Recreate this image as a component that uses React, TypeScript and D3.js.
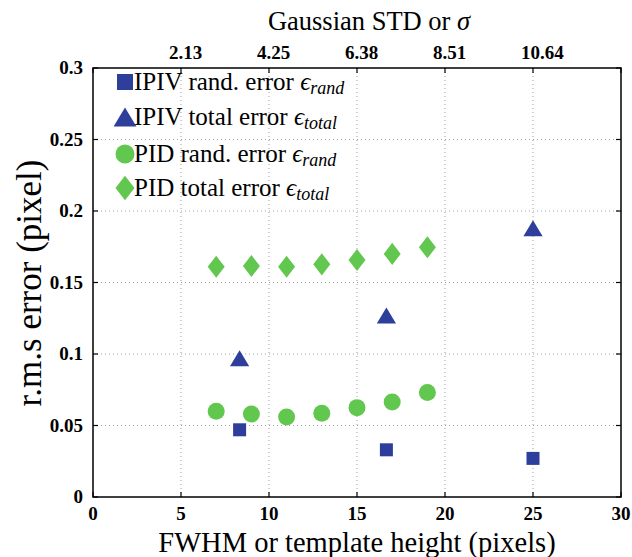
import React from 'react';
import * as d3 from 'd3';

const ipivX = [8.33, 16.67, 25];
const ipivRand = [0.047, 0.033, 0.027];
const ipivTotal = [0.097, 0.127, 0.188];
const pidX = [7, 9, 11, 13, 15, 17, 19];
const pidRand = [0.06, 0.058, 0.056, 0.0585, 0.0625, 0.0665, 0.073];
const pidTotal = [0.161, 0.1615, 0.161, 0.1627, 0.1657, 0.17, 0.1746];
const xTicks = [0, 5, 10, 15, 20, 25, 30];
const yTicks = [0, 0.05, 0.1, 0.15, 0.2, 0.25, 0.3];
const yTickLabels = ['0', '0.05', '0.1', '0.15', '0.2', '0.25', '0.3'];
const topTickPos = [5, 10, 15, 20, 25];
const topTickLabels = ['2.13', '4.25', '6.38', '8.51', '10.64'];
const legendItems = [
  { shape: 'square', color: 'blue', label: 'IPIV rand. error ', sub: 'rand' },
  { shape: 'triangle', color: 'blue', label: 'IPIV total error ', sub: 'total' },
  { shape: 'circle', color: 'green', label: 'PID rand. error ', sub: 'rand' },
  { shape: 'diamond', color: 'green', label: 'PID total error ', sub: 'total' },
];

const BLUE = '#2D3E9B';
const GREEN = '#62C74E';
const FONT = '"Liberation Serif"';

function marker(shape: string, cx: number, cy: number, s: number, color: string, key: any) {
  if (shape === 'square') {
    return <rect key={key} x={cx - s / 2} y={cy - s / 2} width={s} height={s} fill={color} />;
  }
  if (shape === 'circle') {
    return <circle key={key} cx={cx} cy={cy} r={s / 2} fill={color} />;
  }
  if (shape === 'triangle') {
    const w = s * 1.2, h = s;
    return <path key={key} d={`M${cx},${cy - h / 2}L${cx + w / 2},${cy + h / 2}L${cx - w / 2},${cy + h / 2}Z`} fill={color} />;
  }
  const w = s, h = s * 1.3;
  return <path key={key} d={`M${cx},${cy - h / 2}L${cx + w / 2},${cy}L${cx},${cy + h / 2}L${cx - w / 2},${cy}Z`} fill={color} />;
}

export default function App() {
  const L = 93, R = 621, T = 68, B = 497;
  const x = d3.scaleLinear().domain([0, 30]).range([L, R]);
  const y = d3.scaleLinear().domain([0, 0.3]).range([B, T]);
  const tl = 5;
  const tf = { fontFamily: FONT };
  return (
    <svg width={632} height={557} style={{ position: 'absolute', left: 0, top: 0, background: '#fff' }}>
      <rect x={0} y={0} width={632} height={557} fill="#fff" />
      {/* grid */}
      {xTicks.slice(1, -1).map((v) => (
        <line key={'gx' + v} x1={x(v)} x2={x(v)} y1={T} y2={B} stroke="#a0a0a0" strokeWidth={1} strokeDasharray="1,3" />
      ))}
      {yTicks.slice(1, -1).map((v) => (
        <line key={'gy' + v} x1={L} x2={R} y1={y(v)} y2={y(v)} stroke="#a0a0a0" strokeWidth={1} strokeDasharray="1,3" />
      ))}
      {/* ticks */}
      {xTicks.map((v) => (
        <g key={'tx' + v}>
          <line x1={x(v)} x2={x(v)} y1={B} y2={B - tl} stroke="#000" strokeWidth={1.2} />
          <line x1={x(v)} x2={x(v)} y1={T} y2={T + tl} stroke="#000" strokeWidth={1.2} />
          <text x={x(v)} y={520} textAnchor="middle" fontWeight="bold" fontSize={19} style={tf}>{v}</text>
        </g>
      ))}
      {yTicks.map((v, i) => (
        <g key={'ty' + v}>
          <line x1={L} x2={L + tl} y1={y(v)} y2={y(v)} stroke="#000" strokeWidth={1.2} />
          <line x1={R} x2={R - tl} y1={y(v)} y2={y(v)} stroke="#000" strokeWidth={1.2} />
          <text x={83} y={y(v) + 6} textAnchor="end" fontWeight="bold" fontSize={19} style={tf}>{yTickLabels[i]}</text>
        </g>
      ))}
      {topTickPos.map((v, i) => (
        <text key={'tt' + v} x={x(v) - 12} y={59} textAnchor="start" fontWeight="bold" fontSize={19} style={tf}>{topTickLabels[i]}</text>
      ))}
      {/* frame */}
      <rect x={L} y={T} width={R - L} height={B - T} fill="none" stroke="#000" strokeWidth={1.5} />
      {/* data */}
      {pidX.map((v, i) => marker('diamond', x(v), y(pidTotal[i]), 17, GREEN, 'pd' + i))}
      {pidX.map((v, i) => marker('circle', x(v), y(pidRand[i]), 17, GREEN, 'pc' + i))}
      {ipivX.map((v, i) => marker('triangle', x(v), y(ipivTotal[i]), 16, BLUE, 'it' + i))}
      {ipivX.map((v, i) => marker('square', x(v), y(ipivRand[i]), 13, BLUE, 'is' + i))}
      {/* legend */}
      {legendItems.map((it, i) => {
        const cy = [82, 117, 154, 188][i];
        const col = it.color === 'blue' ? BLUE : GREEN;
        return (
          <g key={'lg' + i}>
            {marker(it.shape, 125, cy, it.shape === 'square' ? 16 : 19, col, 'lm' + i)}
            <text x={134} y={cy + 8} fontSize={25} style={tf}>
              {it.label}
              <tspan fontStyle="italic">ϵ</tspan>
              <tspan fontStyle="italic" fontSize={18} dy={4}>{it.sub}</tspan>
            </text>
          </g>
        );
      })}
      {/* axis titles */}
      <text x={357} y={552} textAnchor="middle" fontSize={28.5} style={tf}>FWHM or template height (pixels)</text>
      <text x={369} y={30} textAnchor="middle" fontSize={26.5} style={tf}>Gaussian STD or <tspan fontStyle="italic">σ</tspan></text>
      <text transform={`translate(41,283) rotate(-90)`} textAnchor="middle" fontSize={35} style={tf}>r.m.s error (pixel)</text>
    </svg>
  );
}
